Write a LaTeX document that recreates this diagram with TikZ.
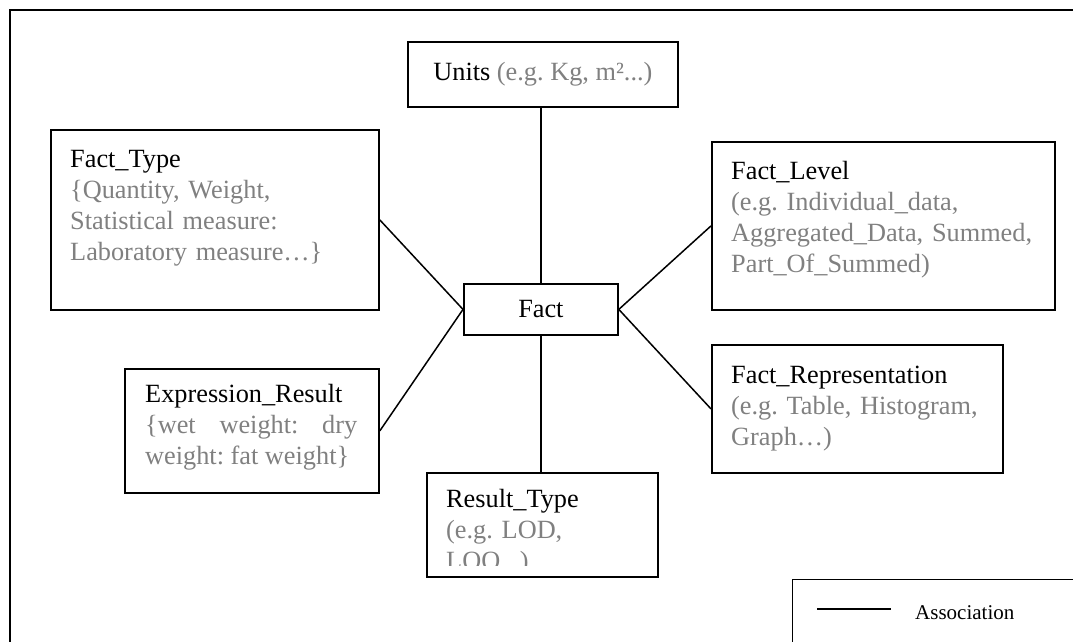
\documentclass[tikz,border=0pt]{standalone}
\usepackage{fontspec}
\setmainfont{Liberation Serif}
\frenchspacing
\definecolor{hint}{RGB}{128,128,128}
\tikzset{
  box/.style={draw, line width=1.8pt, anchor=north west, inner sep=0pt,
    font=\fontsize{26.3}{31}\selectfont},
  boxtext/.style={anchor=base west, inner sep=0pt, align=left, text width=#1,
    font=\fontsize{26.3}{31}\selectfont},
  link/.style={line width=1.5pt},
  frame/.style={line width=2.2pt}
}
\begin{document}
\begin{tikzpicture}[x=1pt,y=-1pt]
\useasboundingbox (0,0) rectangle (1073,641);
\clip (0,0) rectangle (1073,641);
\draw[frame] (10,10) rectangle (1100,700);

% central entity
\node[box, minimum width=154pt, minimum height=51pt] (fact) at (463,283) {Fact};

% attribute boxes
\node[box, minimum width=270pt, minimum height=65pt] (units) at (407,41)
  {Units \textcolor{hint}{(e.g. Kg, m²...)}};

\node[box, minimum width=328pt, minimum height=180pt] (ftype) at (50,129) {};
\node[boxtext=300pt] (ftype-t) at (70,167)
  {Fact\_Type\\\textcolor{hint}{\{Quantity, Weight,\\Statistical measure:\\Laboratory measure…\}}};

\node[box, minimum width=343pt, minimum height=168pt] (flevel) at (711,141) {};
\node[boxtext=320pt] (flevel-t) at (731,179)
  {Fact\_Level\\\textcolor{hint}{(e.g. Individual\_data,\\Aggregated\_Data, Summed,\\Part\_Of\_Summed)}};

\node[box, minimum width=291pt, minimum height=128pt] (frep) at (711,344) {};
\node[boxtext=280pt] (frep-t) at (731,383)
  {Fact\_Representation\\\textcolor{hint}{(e.g. Table, Histogram,\\Graph…)}};

\node[box, minimum width=254pt, minimum height=124pt] (expr) at (124,368) {};
\node[anchor=base west, inner sep=0pt, align=justify, text width=212pt,
  font=\fontsize{26.3}{31}\selectfont] (expr-t) at (145,402)
  {Expression\_Result\\\textcolor{hint}{\{wet weight: dry\linebreak weight: fat weight\}}};

\node[box, minimum width=231pt, minimum height=104pt] (rtype) at (426,472) {};
\begin{scope}
  \clip (426,472) rectangle (657,565);
  \node[boxtext=200pt] (rtype-t) at (446,507)
    {Result\_Type\\\textcolor{hint}{(e.g. LOD,\\LOQ...)}};
\end{scope}

% associations
\draw[link] (fact.north) -- (fact.north |- units.south);
\draw[link] (fact.south) -- (fact.south |- rtype.north);
\draw[link] (ftype.east) -- (fact.west);
\draw[link] (expr.east) -- (fact.west);
\draw[link] (flevel.west) -- (fact.east);
\draw[link] (frep.west) -- (fact.east);

% legend
\node[draw, line width=0.8pt, anchor=north west, minimum width=320pt,
  minimum height=100pt, inner sep=0pt] (legend) at (792,579) {};
\coordinate (leg-a) at (817,609);
\coordinate (leg-b) at (891,609);
\draw[link] (leg-a) -- (leg-b);
\node[anchor=base west, inner sep=0pt, font=\fontsize{21}{25}\selectfont] (assoc) at (915,619) {Association};
\end{tikzpicture}
\end{document}
